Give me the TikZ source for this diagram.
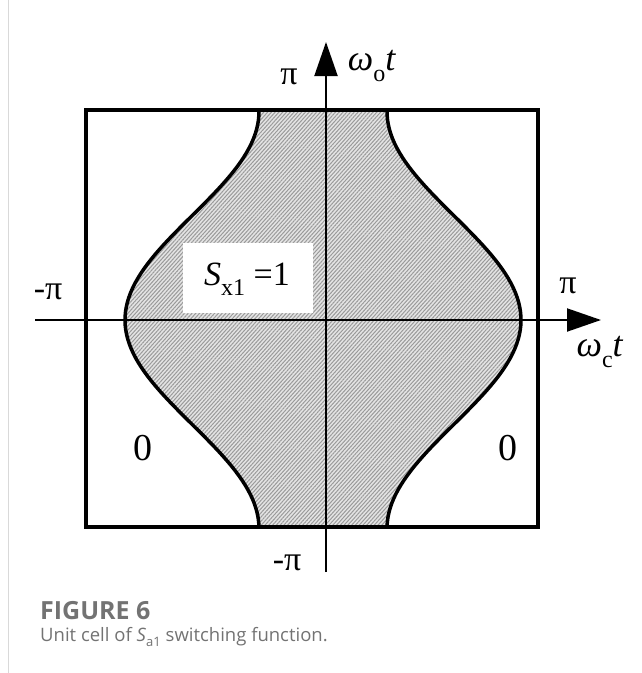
\documentclass[tikz,border=0pt]{standalone}
\usepackage{fontspec}
\setmainfont{Liberation Serif}
\newfontfamily\capfont{Open Sans}
\usetikzlibrary{arrows.meta,patterns.meta}
\definecolor{capgray}{HTML}{737373}
\definecolor{hatchbg}{HTML}{E4E4E4}
\definecolor{hatchln}{HTML}{9A9A9A}
\tikzset{
  lbl/.style={inner sep=0pt},
  pilbl/.style={inner sep=0pt, font=\fontsize{34}{34}\selectfont},
  axisline/.style={line width=2pt, -{Triangle[length=34pt,width=23pt]}},
  edge/.style={line width=3.5pt},
}
\begin{document}
\begin{tikzpicture}[x=1pt,y=-1pt]
\useasboundingbox (0,0) rectangle (641,673);
\fill[white] (0,0) rectangle (641,673);
% hatched region
\path[fill=hatchbg] plot[domain=110:527,samples=90] ({323-(131+67*cos((\x-320)/208.5*180))},\x)
  -- plot[domain=527:110,samples=90] ({323+(131+67*cos((\x-320)/208.5*180))},\x) -- cycle;
\path[pattern={Lines[angle=48,distance=2.8pt,line width=1pt]},pattern color=hatchln]
  plot[domain=110:527,samples=90] ({323-(131+67*cos((\x-320)/208.5*180))},\x)
  -- plot[domain=527:110,samples=90] ({323+(131+67*cos((\x-320)/208.5*180))},\x) -- cycle;
\draw[edge] plot[domain=110:527,samples=90] ({323-(131+67*cos((\x-320)/208.5*180))},\x);
\draw[edge] plot[domain=110:527,samples=90] ({323+(131+67*cos((\x-320)/208.5*180))},\x);
% white label box
\fill[white] (183,243) rectangle (313,313);
% unit cell box
\draw[edge] (86,110) rectangle (538,527);
% axes
\coordinate (xl) at (35,320);
\coordinate (xr) at (601,320);
\coordinate (yb) at (326,572);
\coordinate (yt) at (326,42);
\draw[axisline] (xl) -- (xr);
\draw[axisline] (yb) -- (yt);
% labels
\node[pilbl] (pitop) at (289,77) {π};
\node[lbl] (wo) at (372,66) {\fontsize{36}{36}\selectfont\textit{ω}\raisebox{-0.28em}{\fontsize{24}{24}\selectfont o}\textit{t}};
\node[pilbl] (piright) at (568,286) {π};
\node[lbl] (wc) at (600,352) {\fontsize{36}{36}\selectfont\textit{ω}\raisebox{-0.28em}{\fontsize{24}{24}\selectfont c}\textit{t}};
\node[pilbl] (pileft) at (48,292) {-π};
\node[pilbl] (pibot) at (287,563) {-π};
\node[lbl] (sx) at (247,279) {\fontsize{34}{34}\selectfont\textit{S}\raisebox{-0.3em}{\fontsize{24}{24}\selectfont x1} =1};
\node[lbl] (zl) at (143,448) {\fontsize{38}{38}\selectfont 0};
\node[lbl] (zr) at (508,448) {\fontsize{38}{38}\selectfont 0};
% caption
\node[lbl,anchor=west] (figlab) at (40,611) {\capfont\bfseries\fontsize{25}{25}\selectfont\color{capgray}FIGURE 6};
\node[lbl,anchor=west] (figcap) at (40,637) {\capfont\fontsize{18.5}{18.5}\selectfont\color{capgray}Unit cell of \textit{S}\raisebox{-0.25em}{\fontsize{13}{13}\selectfont a1} switching function.};
\coordinate (gl1) at (8,0);
\coordinate (gl2) at (8,673);
\draw[line width=1pt,color=gray!30] (gl1) -- (gl2);
\end{tikzpicture}
\end{document}
